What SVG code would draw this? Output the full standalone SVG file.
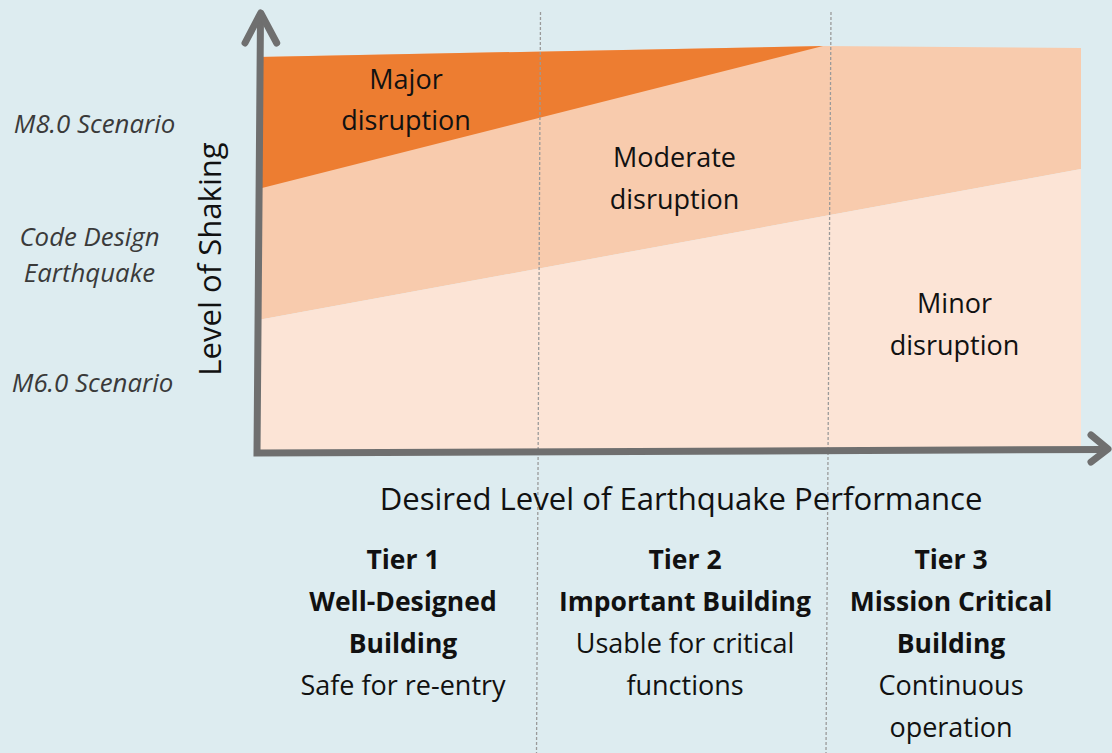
<svg xmlns="http://www.w3.org/2000/svg" width="1112" height="753" viewBox="0 0 1112 753">
<style>
.t{font-family:"Open Sans","Noto Sans","Liberation Sans",sans-serif;fill:#111;text-anchor:middle}
.body{font-size:27px}
.big{font-size:31.1px}
.b{font-size:26.5px;font-weight:bold}
.it{font-family:"Open Sans","Noto Sans","Liberation Sans",sans-serif;font-style:italic;font-size:25.8px;fill:#3a3a3a;text-anchor:middle}
.dash{stroke:#9a9a9a;stroke-width:1.3;stroke-dasharray:3 2;fill:none}
.axis{stroke:#6f6f6f;stroke-width:7;fill:none;stroke-linecap:round;stroke-linejoin:round}
</style>
<rect width="1112" height="753" fill="#DDECF0"/>
<g id="zones">
<polygon id="zone-moderate" points="258,57 823,46 1081,48 1081,169 258,320" fill="#F8CBAD"/>
<polygon id="zone-major" points="258,57 823,46 258,189" fill="#ED7D31"/>
<polygon id="zone-minor" points="258,320 1081,169 1081,448 258,450" fill="#FCE4D6"/>
</g>
<g id="dividers">
<line class="dash" x1="540.5" y1="12" x2="536.5" y2="753"/>
<line class="dash" x1="831" y1="12" x2="826" y2="753"/>
</g>
<g id="axes">
<polyline class="axis" points="260.5,15 257,453 1107,449.5" style="stroke-linecap:butt;stroke-linejoin:miter"/>
<polyline class="axis" points="245,43 260.7,13 276.7,43"/>
<polyline class="axis" points="1091,435 1108,449 1091,462"/>
</g>
<g id="zone-labels">
<text class="t body" x="406" y="89">Major</text>
<text class="t body" x="406" y="130">disruption</text>
<text class="t body" x="674.5" y="167">Moderate</text>
<text class="t body" x="674.5" y="209">disruption</text>
<text class="t body" x="954.5" y="313">Minor</text>
<text class="t body" x="954.5" y="355">disruption</text>
</g>
<g id="y-labels">
<text class="it" x="94.5" y="133">M8.0 Scenario</text>
<text class="it" x="89.5" y="246">Code Design</text>
<text class="it" x="89.5" y="282">Earthquake</text>
<text class="it" x="92.5" y="392">M6.0 Scenario</text>
<text class="t big" transform="translate(221,259) rotate(-90)">Level of Shaking</text>
</g>
<text id="x-title" class="t big" x="681" y="510">Desired Level of Earthquake Performance</text>
<g id="tier1">
<text class="t b" x="403" y="569">Tier 1</text>
<text class="t b" x="403" y="611">Well-Designed</text>
<text class="t b" x="403" y="653">Building</text>
<text class="t body" x="403" y="695">Safe for re-entry</text>
</g>
<g id="tier2">
<text class="t b" x="685" y="569">Tier 2</text>
<text class="t b" x="685" y="611">Important Building</text>
<text class="t body" x="685" y="653">Usable for critical</text>
<text class="t body" x="685" y="695">functions</text>
</g>
<g id="tier3">
<text class="t b" x="951" y="569">Tier 3</text>
<text class="t b" x="951" y="611">Mission Critical</text>
<text class="t b" x="951" y="653">Building</text>
<text class="t body" x="951" y="695">Continuous</text>
<text class="t body" x="951" y="737">operation</text>
</g>
</svg>
